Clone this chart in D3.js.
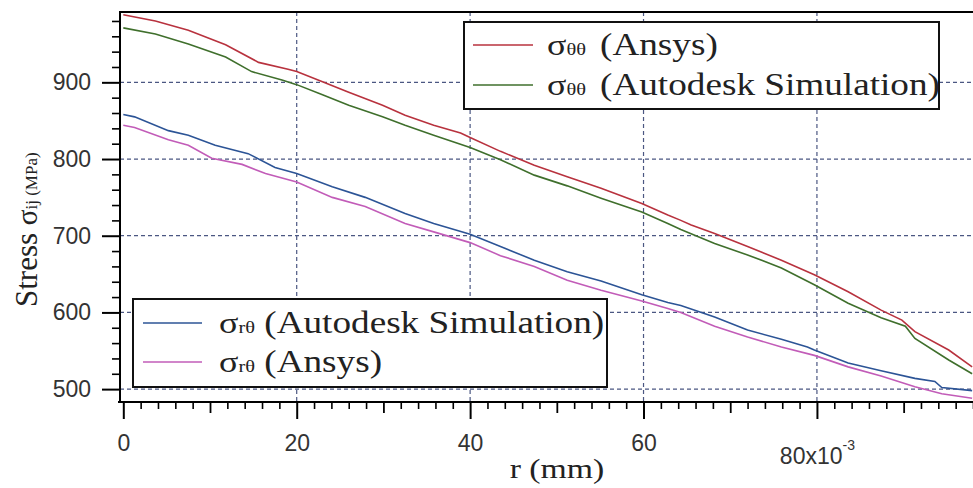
<!DOCTYPE html>
<html>
<head>
<meta charset="utf-8">
<script src="https://cdn.jsdelivr.net/npm/d3@7"></script>
<style>
  html, body { margin: 0; padding: 0; background: #fff; }
  svg { display: block; }
</style>
</head>
<body>
<div id="chart"></div>
<script>
// radius r (mm) and stress (MPa), one pair of arrays per curve
const rThetaAnsys = [0, 3.7, 7.5, 11.8, 15.6, 19, 20, 22.9, 26, 29.9, 32.5, 35.8, 38.9, 40, 43.5, 47.4, 51.2, 55.1, 59.8, 62.8, 64.3, 65.5, 68.2, 72, 75.9, 79.7, 83.6, 87.4, 89.8, 91.3, 95.2, 97.9];
const sThetaAnsys = [988, 980, 968, 949, 926, 917, 914, 901, 887, 870, 857, 844, 834, 828, 810, 792, 777, 762, 742, 727, 720, 714, 703, 686, 668, 649, 627, 603, 590, 575, 551, 529];

const rThetaAutodesk = [0, 3.7, 7.5, 11.8, 14.8, 18.3, 20, 22.9, 26, 29.9, 32.5, 35.8, 40, 43.5, 47.4, 51.2, 55.1, 59.8, 62.8, 64.3, 68.2, 72, 75.9, 79.7, 83.6, 87.4, 90.2, 91.3, 95.2, 97.9];
const sThetaAutodesk = [971, 963, 950, 933, 914, 903, 897, 884, 870, 855, 844, 831, 815, 799, 779, 765, 749, 731, 716, 708, 690, 675, 658, 636, 612, 593, 582, 566, 538, 520];

const rShearAutodesk = [0, 1.3, 5.2, 7.5, 10.6, 14.4, 17.5, 20, 24.1, 27.9, 32.5, 35.8, 40, 43.5, 47.4, 51.2, 55.1, 59.8, 62.8, 64.3, 68.2, 72, 75.9, 78.9, 79.7, 83.6, 87.4, 91.3, 93.6, 94.4, 97.9];
const sShearAutodesk = [858, 855, 837, 831, 818, 807, 789, 781, 764, 750, 729, 716, 702, 686, 668, 653, 641, 623, 613, 609, 594, 577, 565, 555, 551, 534, 524, 514, 510, 502, 498];

const rShearAnsys = [0, 1.3, 5.2, 7.5, 10.2, 13.7, 16.4, 20, 24.1, 27.9, 32.5, 35.8, 40, 43.5, 47.4, 51.2, 55.1, 59.8, 62.8, 64.3, 68.2, 72, 75.9, 79.7, 83.6, 87.4, 91.3, 94.4, 97.9];
const sShearAnsys = [844, 841, 825, 818, 801, 793, 781, 770, 750, 738, 716, 705, 691, 674, 660, 642, 629, 615, 605, 600, 582, 568, 555, 544, 529, 517, 503, 494, 488];

const xMajorTicks = [0, 20, 40, 60, 80];
const yMajorTicks = [500, 600, 700, 800, 900];

const series = [
    {r: rThetaAnsys, s: sThetaAnsys, color: "#b8323e"},
    {r: rThetaAutodesk, s: sThetaAutodesk, color: "#3f6f2c"},
    {r: rShearAutodesk, s: sShearAutodesk, color: "#2c5496"},
    {r: rShearAnsys, s: sShearAnsys, color: "#c25cb8"}
];

const serif = "'Liberation Serif', 'Times New Roman', serif";
const sans = "'Liberation Sans', Arial, sans-serif";

const width = 973, height = 488;
const plotLeft = 120, plotTop = 12, plotBottom = 402, plotRight = 973;

const svg = d3.select("#chart").append("svg")
    .attr("width", width)
    .attr("height", height);

const x = d3.scaleLinear().domain([0, 98]).range([123.3, plotRight]);
const y = d3.scaleLinear().domain([483.2, 991.7]).range([plotBottom, plotTop]);

// dashed grid
const grid = svg.append("g")
    .attr("stroke", "#4b5782")
    .attr("stroke-width", 1.2)
    .attr("stroke-dasharray", "4,3");

grid.selectAll(".hgrid")
    .data(yMajorTicks)
    .enter().append("line")
    .attr("x1", plotLeft).attr("x2", plotRight)
    .attr("y1", d => y(d)).attr("y2", d => y(d));

grid.selectAll(".vgrid")
    .data(xMajorTicks.filter(d => d > 0))
    .enter().append("line")
    .attr("x1", d => x(d)).attr("x2", d => x(d))
    .attr("y1", plotTop).attr("y2", plotBottom);

// curves
const line = d3.line()
    .x(d => x(d[0]))
    .y(d => y(d[1]));

svg.append("g").selectAll("path")
    .data(series)
    .enter().append("path")
    .attr("fill", "none")
    .attr("stroke", d => d.color)
    .attr("stroke-width", 1.6)
    .attr("d", d => line(d.r.map((r, i) => [r, d.s[i]])));

// axes
const xAxisG = svg.append("g").attr("transform", `translate(0,${plotBottom})`);
xAxisG.append("g")
    .call(d3.axisBottom(x).tickValues(d3.range(2, 99, 2).filter(d => d % 10 !== 0)).tickSize(7).tickFormat(""))
    .call(g => g.selectAll(".tick line").attr("stroke-width", 1.6));
xAxisG.append("g")
    .call(d3.axisBottom(x).tickValues([10, 30, 50, 70, 90]).tickSize(11).tickFormat(""))
    .call(g => g.selectAll(".tick line").attr("stroke-width", 1.8));
xAxisG.append("g")
    .call(d3.axisBottom(x).tickValues(xMajorTicks).tickSize(17).tickPadding(16))
    .call(g => g.selectAll(".tick line").attr("stroke-width", 2))
    .call(g => g.selectAll(".tick text")
        .attr("font-family", sans).attr("font-size", 23).attr("fill", "#333"))
    .call(g => g.selectAll(".tick text").filter(d => d === 80)
        .attr("dy", "1.25em")
        .text("80x10")
        .append("tspan").attr("dy", -14).attr("font-size", 14).text("-3"));
xAxisG.selectAll(".domain").remove();

const yAxisG = svg.append("g").attr("transform", `translate(${plotLeft},0)`);
yAxisG.append("g")
    .call(d3.axisLeft(y).tickValues(d3.range(500, 991, 20).filter(d => d % 100 !== 0)).tickSize(8).tickFormat(""))
    .call(g => g.selectAll(".tick line").attr("stroke-width", 1.6));
yAxisG.append("g")
    .call(d3.axisLeft(y).tickValues(yMajorTicks).tickSize(18).tickPadding(11))
    .call(g => g.selectAll(".tick line").attr("stroke-width", 2))
    .call(g => g.selectAll(".tick text")
        .attr("font-family", sans).attr("font-size", 23).attr("fill", "#333"));
yAxisG.selectAll(".domain").remove();

// frame
const frame = svg.append("g").attr("stroke", "#000").attr("stroke-width", 2);
frame.append("line").attr("x1", plotLeft).attr("x2", plotLeft).attr("y1", plotTop - 1).attr("y2", plotBottom + 1);
frame.append("line").attr("x1", plotLeft - 2).attr("x2", plotRight).attr("y1", plotBottom).attr("y2", plotBottom);
frame.append("line").attr("x1", plotLeft).attr("x2", plotRight).attr("y1", plotTop).attr("y2", plotTop);

// axis titles
svg.append("text")
    .attr("transform", "translate(557,478) scale(1.25,1)")
    .attr("text-anchor", "middle")
    .attr("font-family", serif)
    .attr("font-size", 27)
    .attr("fill", "#222")
    .text("r (mm)");

const yTitle = svg.append("text")
    .attr("transform", "translate(37,307) rotate(-90)")
    .attr("font-family", serif)
    .attr("fill", "#222");
yTitle.append("tspan").attr("font-size", 31).text("Stress ");
yTitle.append("tspan").attr("font-size", 29).text("σ");
yTitle.append("tspan").attr("font-size", 17).text("ij (MPa)");

// legends
function drawLegend(box, items) {
    const g = svg.append("g");
    g.append("rect")
        .attr("x", box.x).attr("y", box.y)
        .attr("width", box.w).attr("height", box.h)
        .attr("fill", "#fff")
        .attr("stroke", "#111")
        .attr("stroke-width", 2);
    items.forEach((it, i) => {
        const cy = box.rowY[i];
        g.append("line")
            .attr("x1", box.lineX[0]).attr("x2", box.lineX[1])
            .attr("y1", cy).attr("y2", cy)
            .attr("stroke", it.color).attr("stroke-width", 1.6);
        const t = g.append("text")
            .attr("transform", `translate(${box.textX},${cy + 10}) scale(1.2,1)`)
            .attr("font-family", serif)
            .attr("fill", "#222");
        t.append("tspan").attr("font-size", 30).text("σ");
        t.append("tspan").attr("font-size", 17).text(it.sub);
        t.append("tspan").attr("font-size", 31).attr("dx", box.gap).text(" " + it.label);
    });
}

drawLegend({x: 464, y: 22, w: 475, h: 87, rowY: [45, 85], lineX: [473, 533], textX: 547, gap: 4}, [
    {color: series[0].color, sub: "θθ", label: "(Ansys)"},
    {color: series[1].color, sub: "θθ", label: "(Autodesk Simulation)"}
]);

drawLegend({x: 133, y: 299, w: 474, h: 88, rowY: [323, 362], lineX: [143, 202], textX: 219, gap: 0}, [
    {color: series[2].color, sub: "rθ", label: "(Autodesk Simulation)"},
    {color: series[3].color, sub: "rθ", label: "(Ansys)"}
]);
</script>
</body>
</html>
